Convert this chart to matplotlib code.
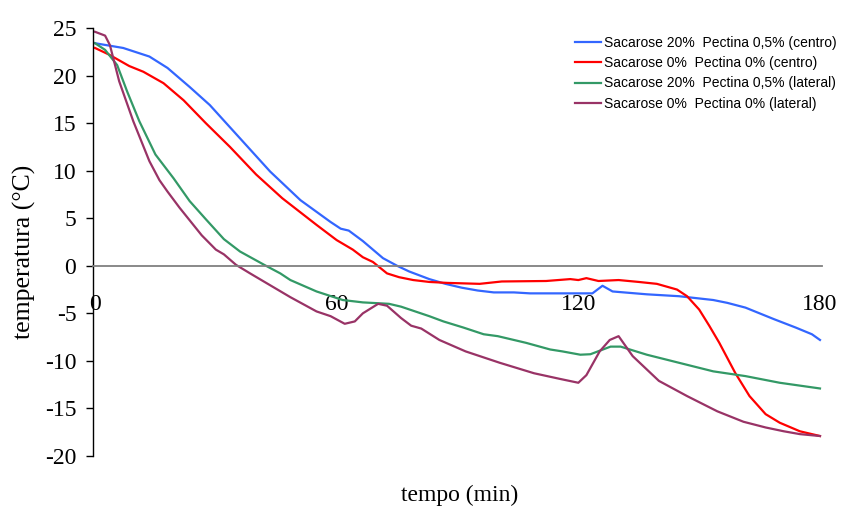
import numpy as np
import matplotlib
matplotlib.use("Agg")
import matplotlib.pyplot as plt

# tempo (min) e temperatura (C)
t_c20 = [0, 7, 13.5, 18, 23.5, 28.5, 36, 43.5, 51, 58.5, 61, 63, 66.5, 71.5, 75, 78, 83, 87, 91, 95,
         99, 104, 108, 116, 123.5, 126, 128.5, 137, 145, 153.5, 157, 161.5, 165, 168.5, 174, 178, 180]
v_c20 = [23.4, 22.9, 22.0, 20.8, 18.8, 16.9, 13.4, 9.9, 6.9, 4.6, 3.9, 3.7, 2.6, 0.8, 0.0, -0.6, -1.4, -1.9, -2.3, -2.6,
         -2.8, -2.8, -2.9, -2.9, -2.9, -2.1, -2.7, -3.0, -3.2, -3.6, -3.9, -4.4, -5.0, -5.6, -6.5, -7.2, -7.8]

t_c0 = [0, 3.5, 8.5, 12, 17, 22, 27.5, 33.5, 40, 46.5, 55, 60, 64, 66.5, 69, 72.5, 75.5, 79, 83, 87.5, 95.5,
        101, 112, 118, 120, 122, 125, 130, 135, 139.5, 142, 144.5, 147, 150, 152.5, 155, 159, 162.5, 166.5,
        170, 175, 180]
v_c0 = [22.9, 22.2, 21.0, 20.4, 19.2, 17.4, 15.0, 12.5, 9.6, 7.1, 4.3, 2.7, 1.7, 0.9, 0.4, -0.8, -1.2, -1.5, -1.7, -1.8, -1.9,
        -1.65, -1.6, -1.4, -1.5, -1.3, -1.6, -1.5, -1.7, -1.9, -2.2, -2.5, -3.2, -4.6, -6.3, -8.1, -11.3, -13.7, -15.6,
        -16.5, -17.4, -17.9]

t_l20 = [0, 2.5, 5.5, 8, 11, 15, 19.5, 23.5, 27.5, 32, 36, 42, 46, 48.5, 55, 61.5, 66.5, 73, 76, 83, 86.5,
         91.5, 96.5, 100, 107, 113, 116, 120.5, 123, 128, 130.5, 137, 145, 153.5, 161.5, 170, 180]
v_l20 = [23.4, 22.7, 21.1, 18.3, 15.2, 11.7, 9.2, 6.8, 4.9, 2.8, 1.5, 0.1, -0.8, -1.5, -2.7, -3.6, -3.85, -4.0, -4.3, -5.3, -5.85,
         -6.5, -7.2, -7.4, -8.1, -8.8, -9.0, -9.35, -9.3, -8.5, -8.5, -9.35, -10.2, -11.1, -11.6, -12.3, -12.9]

t_l0 = [0, 2.5, 3.7, 6, 9.5, 13.5, 16, 18, 21, 26.5, 30, 32, 35, 38.5, 42.5, 48.5, 55, 58.5, 62, 64.5, 66.5,
        70.3, 72.5, 76, 78.5, 81, 85.5, 92, 100.5, 109, 115.5, 120, 122, 125.3, 127.8, 130, 133.5, 140, 147,
        154.5, 161, 166.5, 171, 175, 180]
v_l0 = [24.6, 24.2, 23.2, 19.4, 15.2, 11.0, 9.0, 7.8, 6.1, 3.2, 1.7, 1.2, 0.1, -0.8, -1.8, -3.3, -4.8, -5.3, -6.1, -5.85, -5.0,
        -4.0, -4.2, -5.5, -6.3, -6.6, -7.8, -9.0, -10.2, -11.3, -11.9, -12.3, -11.5, -9.0, -7.8, -7.4, -9.5, -12.1, -13.7,
        -15.3, -16.4, -17.0, -17.4, -17.7, -17.9]

legendas = ['Sacarose 20%  Pectina 0,5% (centro)',
            'Sacarose 0%  Pectina 0% (centro)',
            'Sacarose 20%  Pectina 0,5% (lateral)',
            'Sacarose 0%  Pectina 0% (lateral)']
cores = ['#3366ff', '#ff0000', '#339966', '#993366']

serif = 'Liberation Serif'
plt.rcParams['axes.unicode_minus'] = False

fig = plt.figure(figsize=(8.42, 5.09), dpi=100)
ax = fig.add_axes([93 / 842, 1 - 456 / 509, 729 / 842, 428 / 509])

series = [(t_c20, v_c20), (t_c0, v_c0), (t_l20, v_l20), (t_l0, v_l0)]
for (t, v), cor, lab in zip(series, cores, legendas):
    ax.plot(t, v, color=cor, lw=1.6, label=lab)

ax.set_xlim(-0.5, 180.5)
ax.set_ylim(-20, 25)
ax.set_yticks(np.arange(-20, 26, 5))
ax.set_xticks([0, 60, 120, 180])

ax.spines['top'].set_visible(False)
ax.spines['right'].set_visible(False)
ax.spines['bottom'].set_position(('data', 0))
ax.spines['bottom'].set_color('#808080')
ax.spines['bottom'].set_linewidth(1.3)
ax.spines['left'].set_linewidth(1.0)

ax.tick_params(axis='y', direction='out', length=5, width=1, pad=7, labelsize=17)
ax.tick_params(axis='x', length=0, pad=20, labelsize=17)
for lbl in ax.get_xticklabels() + ax.get_yticklabels():
    lbl.set_family(serif)

ax.set_ylabel('temperatura (°C)', family=serif, fontsize=18.5)
ax.yaxis.set_label_coords(-0.0947, 0.477)
ax.yaxis.label.set_va('center')
ax.set_xlabel('tempo (min)', family=serif, fontsize=17)
ax.xaxis.set_label_coords(0.503, -0.091)
ax.xaxis.label.set_va('center')

leg = ax.legend(loc='upper left', bbox_to_anchor=(575 / 842, 1 - 36 / 509),
                bbox_transform=fig.transFigure, frameon=False, borderpad=0, borderaxespad=0,
                handlelength=1.9, handletextpad=0.2, labelspacing=0.45,
                prop={'family': 'Liberation Sans', 'size': 10})

fig.savefig('out.png', dpi=100)
